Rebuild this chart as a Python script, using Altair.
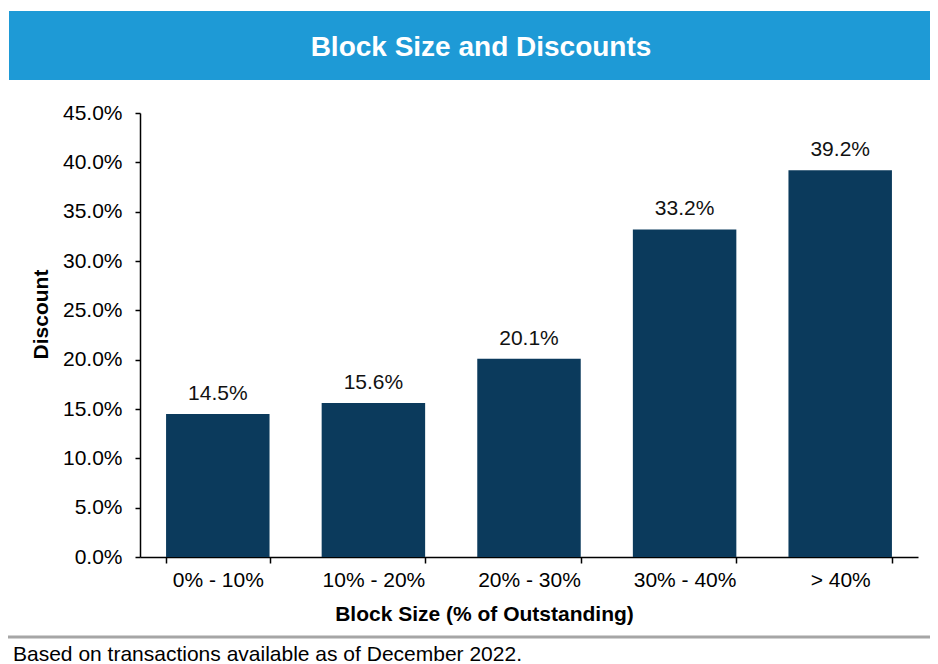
import altair as alt
import pandas as pd

categories = ["0% - 10%", "10% - 20%", "20% - 30%", "30% - 40%", "> 40%"]
discounts = [0.145, 0.156, 0.201, 0.332, 0.392]
title_text = "Block Size and Discounts"
footnote_text = "Based on transactions available as of December 2022."
y_ticks = [0.0, 0.05, 0.10, 0.15, 0.20, 0.25, 0.30, 0.35, 0.40, 0.45]

df = pd.DataFrame({"cat": categories, "val": discounts})

FONT = "Liberation Sans"
W, H = 778, 444
TOTAL_H = 656

x_enc = alt.X(
    "cat:N", sort=categories,
    scale=alt.Scale(paddingInner=0.335, paddingOuter=0.1675),
    axis=alt.Axis(
        title="Block Size (% of Outstanding)", labelAngle=0, tickBand="extent",
        tickSize=6, tickWidth=1.5, tickColor="black", domainColor="black", domainWidth=1.5,
        labelFontSize=21, labelFont=FONT, labelColor="black", labelPadding=6,
        titleFontSize=21, titleFont=FONT, titleFontWeight="bold", titleColor="black",
        titleX=344, titleY=63, titleBaseline="alphabetic", titleAlign="center",
    ),
)
y_enc = alt.Y(
    "val:Q",
    scale=alt.Scale(domain=[0, 0.45], nice=False),
    axis=alt.Axis(
        title="Discount", values=y_ticks, format=".1%", grid=False,
        tickSize=5, tickWidth=1.5, tickColor="black", domainColor="black", domainWidth=1.5,
        labelFontSize=21, labelFont=FONT, labelColor="black", labelPadding=13,
        titleFontSize=21, titleFont=FONT, titleFontWeight="bold", titleColor="black",
        titleX=-93, titleY=201, titleAngle=270, titleBaseline="alphabetic", titleAlign="center",
    ),
)

base = alt.Chart(df)
bars = base.mark_bar(color="#0b3a5c").encode(x=x_enc, y=y_enc)
labels = base.mark_text(
    font=FONT, fontSize=21, color="#111111", baseline="alphabetic", dy=-14
).encode(x=alt.X("cat:N", sort=categories), y="val:Q", text=alt.Text("val:Q", format=".1%"))

one = pd.DataFrame({"k": [0]})
banner = alt.Chart(one).mark_rect(color="#1e9ad6").encode(
    x=alt.value(-131), x2=alt.value(830), y=alt.value(-102), y2=alt.value(-33)
)
title = alt.Chart(one).mark_text(
    text=title_text, font=FONT, fontSize=28, fontWeight="bold", color="white",
    align="center", baseline="alphabetic"
).encode(x=alt.value(341), y=alt.value(-57))
sep = alt.Chart(one).mark_rule(color="#a6a6a6", strokeWidth=3).encode(
    x=alt.value(-132), x2=alt.value(830), y=alt.value(524)
)
foot = alt.Chart(one).mark_text(
    text=footnote_text, font=FONT, fontSize=21, color="black",
    align="left", baseline="alphabetic"
).encode(x=alt.value(-127), y=alt.value(548))

chart = alt.layer(banner, title, bars, labels, sep, foot).properties(
    width=W, height=H,
    autosize=alt.AutoSizeParams(type="none"),
    padding={"left": 132, "top": 105, "right": 12, "bottom": TOTAL_H - 105 - H},
).configure(font=FONT).configure_view(stroke=None)

chart.save("out.html", embed_options={"renderer": "svg", "actions": False})
